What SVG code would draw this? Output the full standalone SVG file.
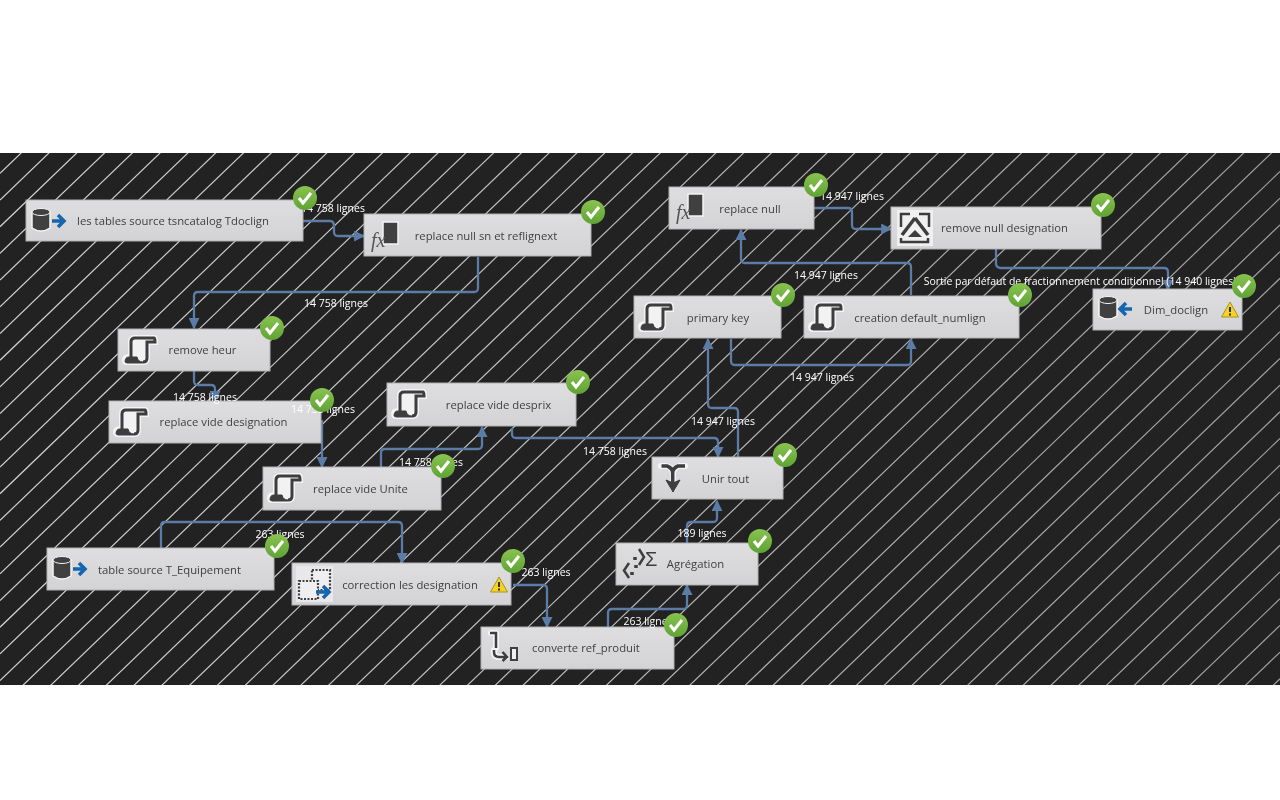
<svg xmlns="http://www.w3.org/2000/svg" width="1280" height="800" viewBox="0 0 1280 800">
<defs>
<linearGradient id="nodeFill" x1="0" y1="0" x2="0" y2="1"><stop offset="0" stop-color="#dedee0"/><stop offset="1" stop-color="#d3d3d6"/></linearGradient>
<linearGradient id="green" x1="0" y1="0" x2="0" y2="1"><stop offset="0" stop-color="#88c34f"/><stop offset="1" stop-color="#5fa334"/></linearGradient>
<linearGradient id="fade" x1="0" y1="0" x2="1" y2="0"><stop offset="0" stop-color="#222" stop-opacity="0"/><stop offset="1" stop-color="#222" stop-opacity="0.3"/></linearGradient>
<filter id="soft" x="0" y="0" width="1" height="1" filterUnits="objectBoundingBox"><feGaussianBlur stdDeviation="0.4"/></filter>
<clipPath id="band"><rect x="0" y="153" width="1280" height="532"/></clipPath>
<marker id="arrow" viewBox="0 0 10 10" refX="9" refY="5" markerWidth="11" markerHeight="11" markerUnits="userSpaceOnUse" orient="auto"><path d="M0 0 L10 5 L0 10 Z" fill="#5b7ba8"/></marker>
<g id="check"><circle r="12" fill="url(#green)"/><path d="M-6 0 L-2 5 L6 -5" fill="none" stroke="#fff" stroke-width="3"/></g>
<g id="warn"><path d="M0 -8 L8.500 7 L-8.500 7 Z" fill="#f5d327" stroke="#a89225" stroke-width="1"/><path d="M0 -3 V2 M0 3.500 V5.500" stroke="#333" stroke-width="2"/></g>
<g id="script">
<path d="M-9 7 V-8 Q-9 -12 -5 -12 H14 Q15 -12 15 -8 H7 V8 Q7 12 3 12 H-13 Q-15 12 -15 10 Q-15 7 -11 7 Z" fill="#f4f4f5" stroke="#f4f4f5" stroke-width="6"/>
<path d="M-9 7 V-8 Q-9 -12 -5 -12 H14 Q15 -12 15 -8 H7 V8 Q7 12 3 12" fill="#f2f2f3" stroke="#3d3d3d" stroke-width="3"/>
<path d="M-15 12 Q-15 7 -11 7 H-3 Q-2 12 3 12 V13 H-13 Z" fill="#3d3d3d" stroke="#3d3d3d"/>
</g>
<g id="fx"><rect x="-2" y="-14" width="15" height="22" fill="#404040" stroke="#f4f4f5" stroke-width="1.500"/><text x="-14" y="11" class="fx">fx</text></g>
<g id="cyl"><path d="M-16 -9 V7 Q-7 13 2 7 V-9 Z" fill="#404040" stroke="#f4f4f5" stroke-width="1.500"/><ellipse cx="-7" cy="-9" rx="9" ry="3.500" fill="#404040" stroke="#f4f4f5" stroke-width="1"/></g>
</defs>
<style>
.bg{fill:#222}
.node{fill:url(#nodeFill);stroke:#b0b0b0;stroke-width:1}
text{font-family:"Open Sans","Noto Sans",sans-serif}
.t{font-size:11.300px;fill:#404040;text-anchor:middle}
.l{font-size:10.500px;fill:#fff;text-anchor:middle}
.fx{font-family:"Liberation Serif",serif;font-style:italic;font-size:20px;fill:#555}
.c{fill:none;stroke:#5b7ba8;stroke-width:2.300;stroke-linejoin:round;marker-end:url(#arrow)}
.ar{fill:none;stroke:#1565ad;stroke-width:3.500}
.ic{fill:none;stroke:#3d3d3d;stroke-width:2.500}
.ha{fill:none;stroke:#f4f4f5;stroke-width:6;stroke-linecap:round;stroke-linejoin:round}
</style>
<rect width="1280" height="800" fill="#fff"/>
<g filter="url(#soft)">
<rect class="bg" x="0" y="153" width="1280" height="532"/>
<path clip-path="url(#band)" fill="none" stroke="#d2d2d2" stroke-width="1.200" d="M0 146.600 l1280 -1230 m-1280 1256.700 l1280 -1230 m-1280 1256.700 l1280 -1230 m-1280 1256.700 l1280 -1230 m-1280 1256.700 l1280 -1230 m-1280 1256.700 l1280 -1230 m-1280 1256.700 l1280 -1230 m-1280 1256.700 l1280 -1230 m-1280 1256.700 l1280 -1230 m-1280 1256.700 l1280 -1230 m-1280 1256.700 l1280 -1230 m-1280 1256.700 l1280 -1230 m-1280 1256.700 l1280 -1230 m-1280 1256.700 l1280 -1230 m-1280 1256.700 l1280 -1230 m-1280 1256.700 l1280 -1230 m-1280 1256.700 l1280 -1230 m-1280 1256.700 l1280 -1230 m-1280 1256.700 l1280 -1230 m-1280 1256.700 l1280 -1230 m-1280 1256.700 l1280 -1230 m-1280 1256.700 l1280 -1230 m-1280 1256.700 l1280 -1230 m-1280 1256.700 l1280 -1230 m-1280 1256.700 l1280 -1230 m-1280 1256.700 l1280 -1230 m-1280 1256.700 l1280 -1230 m-1280 1256.700 l1280 -1230 m-1280 1256.700 l1280 -1230 m-1280 1256.700 l1280 -1230 m-1280 1256.700 l1280 -1230 m-1280 1256.700 l1280 -1230 m-1280 1256.700 l1280 -1230 m-1280 1256.700 l1280 -1230 m-1280 1256.700 l1280 -1230 m-1280 1256.700 l1280 -1230 m-1280 1256.700 l1280 -1230 m-1280 1256.700 l1280 -1230 m-1280 1256.700 l1280 -1230 m-1280 1256.700 l1280 -1230 m-1280 1256.700 l1280 -1230 m-1280 1256.700 l1280 -1230 m-1280 1256.700 l1280 -1230 m-1280 1256.700 l1280 -1230 m-1280 1256.700 l1280 -1230 m-1280 1256.700 l1280 -1230 m-1280 1256.700 l1280 -1230 m-1280 1256.700 l1280 -1230 m-1280 1256.700 l1280 -1230 m-1280 1256.700 l1280 -1230 m-1280 1256.700 l1280 -1230 m-1280 1256.700 l1280 -1230 m-1280 1256.700 l1280 -1230 m-1280 1256.700 l1280 -1230 m-1280 1256.700 l1280 -1230 m-1280 1256.700 l1280 -1230 m-1280 1256.700 l1280 -1230 m-1280 1256.700 l1280 -1230 m-1280 1256.700 l1280 -1230 m-1280 1256.700 l1280 -1230 m-1280 1256.700 l1280 -1230 m-1280 1256.700 l1280 -1230 m-1280 1256.700 l1280 -1230 m-1280 1256.700 l1280 -1230 m-1280 1256.700 l1280 -1230 m-1280 1256.700 l1280 -1230 m-1280 1256.700 l1280 -1230"/>
<rect x="0" y="153" width="1280" height="532" fill="url(#fade)"/>
<g id="connectors">
<path class="c" d="M303 221 H330 Q334 221 334 226 V232 Q334 236 338 236 H364"/>
<path class="c" d="M478 257 V288 Q478 292 474 292 H198 Q194 292 194 296 V328"/>
<path class="c" d="M194 371 V381 Q194 385 198 385 H211 Q215 385 215 389 V401"/>
<path class="c" d="M322 420 V467"/>
<path class="c" d="M381 467 V453 Q381 449 385 449 H478 Q482 449 482 445 V427"/>
<path class="c" d="M161 548 V526 Q161 522 165 522 H398 Q402 522 402 526 V563"/>
<path class="c" d="M512 428 V434 Q512 438 516 438 H714 Q718 438 718 442 V457"/>
<path class="c" d="M513 585 H543 Q547 585 547 589 V627"/>
<path class="c" d="M608 627 V613 Q608 609 612 609 H683 Q687 609 687 605 V585"/>
<path class="c" d="M687 543 V526 Q687 522 691 522 H713 Q717 522 717 518 V501"/>
<path class="c" d="M738 457 V412 Q738 408 734 408 H712 Q708 408 708 404 V339"/>
<path class="c" d="M731 339 V361 Q731 365 735 365 H907 Q911 365 911 361 V339"/>
<path class="c" d="M911 295 V267 Q911 263 907 263 H745 Q741 263 741 259 V230"/>
<path class="c" d="M814 208 H848 Q852 208 852 212 V225 Q852 229 856 229 H891"/>
<path class="c" d="M996 249 V263 Q996 268 1001 268 H1164 Q1168 268 1168 272 V290"/>
</g>
<g id="n1"><rect class="node" x="26" y="200" width="277" height="41"/><use href="#cyl" x="48" y="221"/><path class="ar" d="M52 221 H63 M58 215 L64 221 L58 227"/><text class="t" x="173" y="225">les tables source tsncatalog Tdoclign</text></g>
<g id="n2"><rect class="node" x="364" y="214" width="227" height="42"/><use href="#fx" x="385" y="236"/><text class="t" x="486" y="240">replace null sn et reflignext</text></g>
<g id="n3"><rect class="node" x="118" y="329" width="152" height="42"/><use href="#script" x="140" y="350"/><text class="t" x="202.500" y="354">remove heur</text></g>
<g id="n4"><rect class="node" x="109" y="401" width="212" height="42"/><use href="#script" x="131" y="422"/><text class="t" x="223.500" y="426">replace vide designation</text></g>
<g id="n5"><rect class="node" x="387" y="383" width="189" height="43"/><use href="#script" x="409" y="404"/><text class="t" x="498.500" y="409">replace vide desprix</text></g>
<g id="n6"><rect class="node" x="263" y="467" width="178" height="43"/><use href="#script" x="285" y="488"/><text class="t" x="360.500" y="493">replace vide Unite</text></g>
<g id="n7"><rect class="node" x="47" y="548" width="227" height="42"/><use href="#cyl" x="69" y="569"/><path class="ar" d="M73 569 H84 M79 563 L85 569 L79 575"/><text class="t" x="169.500" y="574">table source T_Equipement</text></g>
<g id="n8"><rect class="node" x="292" y="563" width="219" height="42"/><rect x="296" y="566" width="37" height="36" fill="#e8e8ea"/><g fill="#efeff1" stroke="#404040" stroke-width="2.200" stroke-dasharray="2 1.500"><rect x="312" y="570" width="18" height="20"/><rect x="299" y="581" width="19" height="18"/></g><path class="ar" d="M316 592 H328 M323 586 L329 592 L323 598"/><text class="t" x="410" y="589">correction les designation</text><use href="#warn" x="499" y="585"/></g>
<g id="n9"><rect class="node" x="481" y="627" width="193" height="42"/><path class="ha" d="M491 633 H496 V648 M494 650 V652 Q494 657 499 657 H506"/><path class="ic" d="M490 633 H496 V648 M494 650 V652 Q494 657 499 657 H506 M502.500 652 L507 657 L502.500 661"/><rect x="511" y="648" width="6" height="12" fill="#efeff1" stroke="#404040" stroke-width="2"/><text class="t" x="586" y="652">converte ref_produit</text></g>
<g id="n10"><rect class="node" x="616" y="543" width="142" height="42"/><path class="ic" d="M629 563 L624 570.500 L629 578 M639 549 L644 557 L639 565"/><path d="M635 557 V560 M636 565 V568 M632 572 V575" stroke="#3d3d3d" stroke-width="3.500"/><text x="645" y="566" font-size="20" fill="#3d3d3d" style="font-family:'Liberation Sans',sans-serif">Σ</text><text class="t" x="695.500" y="568">Agrégation</text></g>
<g id="n11"><rect class="node" x="652" y="457" width="131" height="42"/><path class="ha" d="M661 466 H667 Q673 468 673 474 Q673 468 679 466 H685 M673 472 V488"/><path d="M661.500 466 H667 Q672.700 468 672.700 473 Q672.700 468 678 466 H685 M672.700 472 V488" fill="none" stroke="#3d3d3d" stroke-width="3.500"/><path d="M666 480 L673 483 L680 480 L673 492 Z" fill="#3d3d3d" stroke="#3d3d3d"/><text class="t" x="725.500" y="483">Unir tout</text></g>
<g id="n12"><rect class="node" x="634" y="296" width="147" height="42"/><use href="#script" x="656" y="317"/><text class="t" x="718" y="322">primary key</text></g>
<g id="n13"><rect class="node" x="804" y="296" width="215" height="42"/><use href="#script" x="826" y="317"/><text class="t" x="920" y="322">creation default_numlign</text></g>
<g id="n14"><rect class="node" x="669" y="187" width="145" height="42"/><use href="#fx" x="690" y="208"/><text class="t" x="750" y="213">replace null</text></g>
<g id="n15"><rect class="node" x="891" y="207" width="210" height="42"/><rect x="897" y="210" width="36" height="36" fill="#f0f0f1"/><path class="ic" d="M910 214 H901 V227 M919 214 H929 V227 M901 238 V242 H928 V238"/><path d="M915 218 L902 235 M915 218 L928 235" stroke="#3d3d3d" stroke-width="3.500"/><path d="M915 230 L908 237 H922 Z" fill="#3d3d3d"/><text class="t" x="1004.500" y="232">remove null designation</text></g>
<g id="n16"><rect class="node" x="1093" y="289" width="149" height="41"/><use href="#cyl" x="1115" y="309"/><path class="ar" d="M1132 309 H1121 M1126 303 L1120 309 L1126 315"/><text class="t" x="1176" y="314">Dim_doclign</text><use href="#warn" x="1230" y="310"/></g>
<g id="labels">
<text class="l" x="333" y="212">14 758 lignes</text>
<text class="l" x="336" y="307">14 758 lignes</text>
<text class="l" x="205" y="401">14 758 lignes</text>
<text class="l" x="323" y="413">14 758 lignes</text>
<text class="l" x="431" y="466">14 758 lignes</text>
<text class="l" x="615" y="455">14 758 lignes</text>
<text class="l" x="280" y="538">263 lignes</text>
<text class="l" x="546" y="576">263 lignes</text>
<text class="l" x="648" y="625">263 lignes</text>
<text class="l" x="702" y="537">189 lignes</text>
<text class="l" x="723" y="425">14 947 lignes</text>
<text class="l" x="822" y="381">14 947 lignes</text>
<text class="l" x="826" y="279">14 947 lignes</text>
<text class="l" x="852" y="200">14 947 lignes</text>
<text class="l" x="1080" y="285">Sortie par défaut de fractionnement conditionnel (14 940 lignes)</text>
</g>
<g id="badges">
<use href="#check" x="305" y="198"/><use href="#check" x="593" y="212"/><use href="#check" x="272" y="328"/><use href="#check" x="322" y="400"/><use href="#check" x="578" y="382"/><use href="#check" x="443" y="466"/><use href="#check" x="277" y="546"/><use href="#check" x="513" y="561"/><use href="#check" x="676" y="625"/><use href="#check" x="760" y="541"/><use href="#check" x="785" y="455"/><use href="#check" x="783" y="295"/><use href="#check" x="1020" y="295"/><use href="#check" x="816" y="185"/><use href="#check" x="1103" y="205"/><use href="#check" x="1244" y="286"/>
</g>
</g>
</svg>
